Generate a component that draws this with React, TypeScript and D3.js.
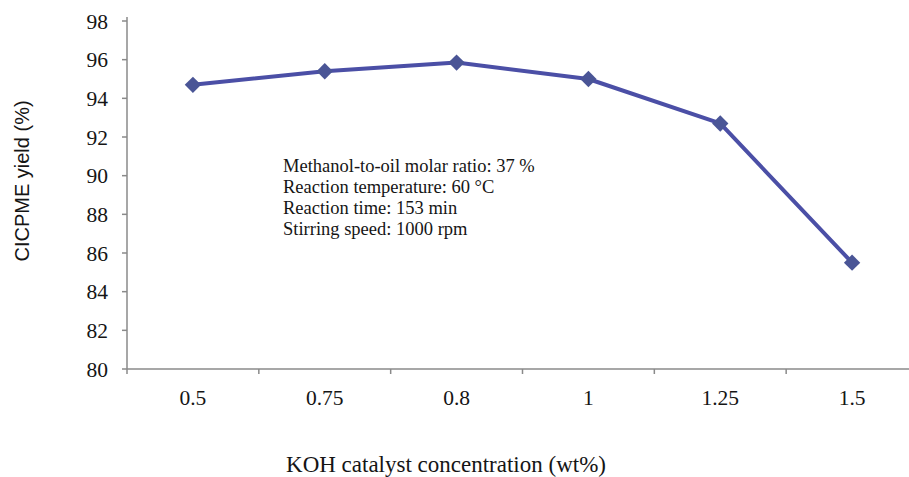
import React from "react";
import * as d3 from "d3";

// KOH catalyst concentration (wt%) and CICPME yield (%)
const categories: string[] = ["0.5", "0.75", "0.8", "1", "1.25", "1.5"];
const yieldValues: number[] = [94.7, 95.4, 95.85, 95.0, 92.7, 85.5];
const yTicks: number[] = [80, 82, 84, 86, 88, 90, 92, 94, 96, 98];
const conditions: string[] = [
  "Methanol-to-oil molar ratio: 37 %",
  "Reaction temperature: 60 °C",
  "Reaction time: 153 min",
  "Stirring speed: 1000 rpm",
];

const W = 909;
const H = 477;
const left = 127;
const right = 918;
const top = 21;
const bottom = 369;

export default function App() {
  const x = d3.scaleBand<string>().domain(categories).range([left, right]).padding(0);
  const y = d3.scaleLinear().domain([80, 98]).range([bottom, top]);
  const cx = (c: string) => (x(c) as number) + x.bandwidth() / 2;

  const pts: [number, number][] = categories.map((c, i) => [cx(c), y(yieldValues[i])]);
  const line = d3.line<[number, number]>()(pts) || "";
  const diamond = d3.symbol().type(d3.symbolDiamond2).size(170)() || "";

  const boundaries = categories.map((c) => x(c) as number);

  const serif = "'Liberation Serif', 'Times New Roman', serif";
  const axisColor = "#8a8a8a";
  const ink = "#151515";

  return (
    <svg
      width={W}
      height={H}
      style={{ position: "absolute", left: 0, top: 0, background: "#fff" }}
    >
      <rect width={W} height={H} fill="#fff" />
      {/* y axis */}
      <line x1={left} x2={left} y1={top - 4} y2={bottom} stroke={axisColor} strokeWidth={1.5} />
      {yTicks.map((t) => (
        <g key={t}>
          <line x1={left - 5} x2={left} y1={y(t)} y2={y(t)} stroke={axisColor} strokeWidth={1.5} />
          <text
            x={108}
            y={y(t)}
            dy="0.35em"
            textAnchor="end"
            fontFamily={serif}
            fontSize={21.5}
            fill={ink}
          >
            {t}
          </text>
        </g>
      ))}
      {/* x axis */}
      <line x1={left} x2={W} y1={bottom} y2={bottom} stroke={axisColor} strokeWidth={1.5} />
      {boundaries.map((b, i) => (
        <line key={i} x1={b} x2={b} y1={bottom} y2={bottom + 5} stroke={axisColor} strokeWidth={1.5} />
      ))}
      {categories.map((c) => (
        <text
          key={c}
          x={cx(c)}
          y={405}
          textAnchor="middle"
          fontFamily={serif}
          fontSize={21.5}
          fill={ink}
        >
          {c}
        </text>
      ))}
      {/* axis titles */}
      <text
        x={446}
        y={472}
        textAnchor="middle"
        fontFamily={serif}
        fontSize={23}
        fill={ink}
      >
        KOH catalyst concentration (wt%)
      </text>
      <text
        transform={`translate(29,181) rotate(-90)`}
        textAnchor="middle"
        fontFamily="'Liberation Sans', Arial, sans-serif"
        fontSize={20}
        fill={ink}
      >
        CICPME yield (%)
      </text>
      {/* conditions note */}
      {conditions.map((s, i) => (
        <text key={i} x={283} y={172 + i * 21} fontFamily={serif} fontSize={18.5} fill={ink}>
          {s}
        </text>
      ))}
      {/* series */}
      <path d={line} fill="none" stroke="#4B4FA6" strokeWidth={4} strokeLinejoin="round" />
      {pts.map(([px, py], i) => (
        <path key={i} d={diamond} transform={`translate(${px},${py})`} fill="#4A5596" />
      ))}
    </svg>
  );
}
